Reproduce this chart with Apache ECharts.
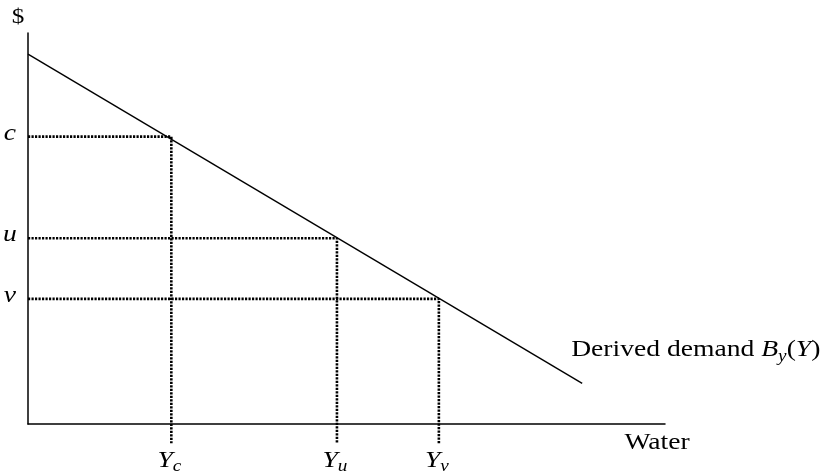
<!DOCTYPE html>
<html>
<head>
<meta charset="utf-8">
<script src="https://cdn.jsdelivr.net/npm/echarts@6/dist/echarts.min.js"></script>
<style>
  html, body { margin: 0; padding: 0; background: #fff; }
  #chart { width: 827px; height: 476px; }
</style>
</head>
<body>
<div id="chart"></div>
<script>
// Derived demand for water: a straight line from the price intercept down to the right
const demandQty = [0, 87];
const demandPrice = [94.6, 10.4];

// Price levels c, u, v and the quantities demanded at each of them
const levelNames = ['c', 'u', 'v'];
const levelPrices = [73.5, 47.5, 32];
const levelQty = [22.5, 48.5, 64.5];
const qtyLabels = ['c', 'u', 'v'];   // subscripts of Y

// How far the dotted guides reach below the quantity axis
const guideFloor = -4.9;

const FONT = 'Liberation Serif';
const FS = 23;       // base text size
const SX = 1.2;      // text is set slightly wide

const chart = echarts.init(document.getElementById('chart'));

const series = [];

series.push({
  type: 'line',
  data: demandQty.map((q, i) => [q, demandPrice[i]]),
  showSymbol: false,
  lineStyle: { color: '#000', width: 1.4 },
  silent: true,
  z: 3
});

levelPrices.forEach((p, i) => {
  series.push({
    type: 'line',
    data: [[0, p], [levelQty[i], p], [levelQty[i], guideFloor]],
    showSymbol: false,
    clip: false,
    lineStyle: { color: '#000', width: 2.6, type: [2.2, 1.3] },
    silent: true,
    z: 2
  });
});

chart.setOption({
  animation: false,
  grid: { left: 28, right: 162, top: 33, bottom: 52 },
  xAxis: {
    type: 'value', min: 0, max: 100,
    axisLine: { show: true, lineStyle: { color: '#000', width: 1.5 } },
    axisTick: { show: false }, axisLabel: { show: false }, splitLine: { show: false }
  },
  yAxis: {
    type: 'value', min: 0, max: 100,
    axisLine: { show: true, lineStyle: { color: '#000', width: 1.5 } },
    axisTick: { show: false }, axisLabel: { show: false }, splitLine: { show: false }
  },
  series: series
});

// Text labels anchored to data coordinates
const toPx = (v) => chart.convertToPixel({ gridIndex: 0 }, v);

const rich = {
  t: { fontFamily: FONT, fontSize: FS, fill: '#000' },
  i: { fontFamily: FONT, fontStyle: 'italic', fontSize: FS, fill: '#000' },
  s: { fontFamily: FONT, fontStyle: 'italic', fontSize: 16, fill: '#000', padding: [12, 0, 0, 0] }
};

function textEl(pos, dx, dy, text, align, extra) {
  return {
    type: 'text',
    x: pos[0] + dx,
    y: pos[1] + dy,
    scaleX: SX,
    silent: true,
    z: 10,
    style: Object.assign({
      text: text,
      fill: '#000',
      fontFamily: FONT,
      fontSize: FS,
      align: align,
      verticalAlign: 'middle'
    }, extra || {})
  };
}

const graphics = [];

levelPrices.forEach((p, i) => {
  graphics.push(textEl(toPx([0, p]), -18, -3, levelNames[i], 'center', { fontStyle: 'italic' }));
});

levelQty.forEach((q, i) => {
  graphics.push(textEl(toPx([q, guideFloor]), -2, 18, '{i|Y}{s|' + qtyLabels[i] + '}', 'center', { rich: rich }));
});

graphics.push(textEl(toPx([0, 100]), -10, -16, '$', 'center', { fontSize: 21 }));
graphics.push(textEl(toPx([100, 0]), -8, 19, 'Water', 'center'));
graphics.push(textEl(toPx([demandQty[1], demandPrice[1]]), -11, -33,
  '{t|Derived demand }{i|B}{s|y}{t|(}{i|Y}{t|)}', 'left', { rich: rich }));

chart.setOption({ graphic: graphics });
</script>
</body>
</html>
